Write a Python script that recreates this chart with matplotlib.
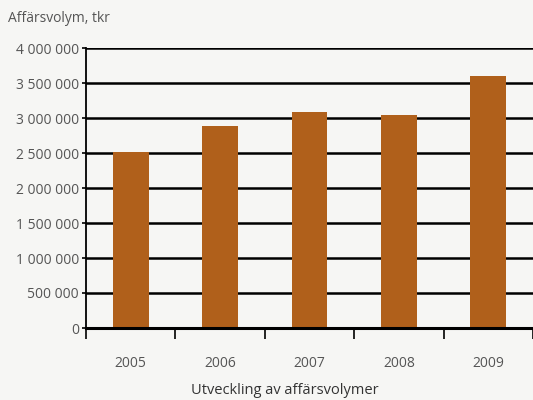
import matplotlib
matplotlib.use("Agg")
import matplotlib.pyplot as plt
from matplotlib.ticker import FuncFormatter

years = ["2005", "2006", "2007", "2008", "2009"]
volume = [2515000, 2885000, 3085000, 3040000, 3600000]
yticks = [0, 500000, 1000000, 1500000, 2000000, 2500000, 3000000, 3500000, 4000000]

bg = "#f6f6f4"
bar_color = "#b0601b"
text_color = "#555555"
plt.rcParams["font.family"] = ["Open Sans", "DejaVu Sans"]

fig = plt.figure(figsize=(5.33, 4.0), dpi=100, facecolor=bg)
ax = fig.add_axes([0.1614, 0.18, 0.8386, 0.70], facecolor=bg)

x = list(range(len(years)))
ax.set_xlim(-0.5, len(years) - 0.5)
ax.set_ylim(0, 4000000)

for yv in yticks[1:]:
    ax.axhline(yv, color="black", lw=1.8, zorder=1)

ax.bar(x, volume, width=0.4, color=bar_color, zorder=2)

ax.set_yticks(yticks)
ax.yaxis.set_major_formatter(FuncFormatter(lambda v, p: f"{int(v):,}".replace(",", " ")))
ax.set_xticks([i - 0.5 for i in range(len(years))] + [len(years) - 0.5])
ax.set_xticklabels([])
ax.set_xticks(x, minor=True)
ax.set_xticklabels(years, minor=True)
ax.tick_params(axis="x", which="major", length=8, width=1.2, color="black", direction="out")
ax.tick_params(axis="x", which="minor", length=0, pad=20, labelsize=10, labelcolor=text_color)
ax.tick_params(axis="y", length=3, width=1.2, color="black", labelsize=10, labelcolor=text_color, pad=2)

for s in ["top", "right"]:
    ax.spines[s].set_visible(False)
ax.spines["left"].set_linewidth(1.3)
ax.spines["bottom"].set_linewidth(2.2)
ax.spines["left"].set_zorder(3)
ax.spines["bottom"].set_zorder(3)

fig.text(8 / 533, 1 - 18 / 400, "Affärsvolym, tkr", fontsize=10, color=text_color, va="center", ha="left")
fig.text(285 / 533, 1 - 390 / 400, "Utveckling av affärsvolymer", fontsize=10.5, color="#333333", va="center", ha="center")

fig.savefig("out.png", dpi=100, facecolor=bg)
